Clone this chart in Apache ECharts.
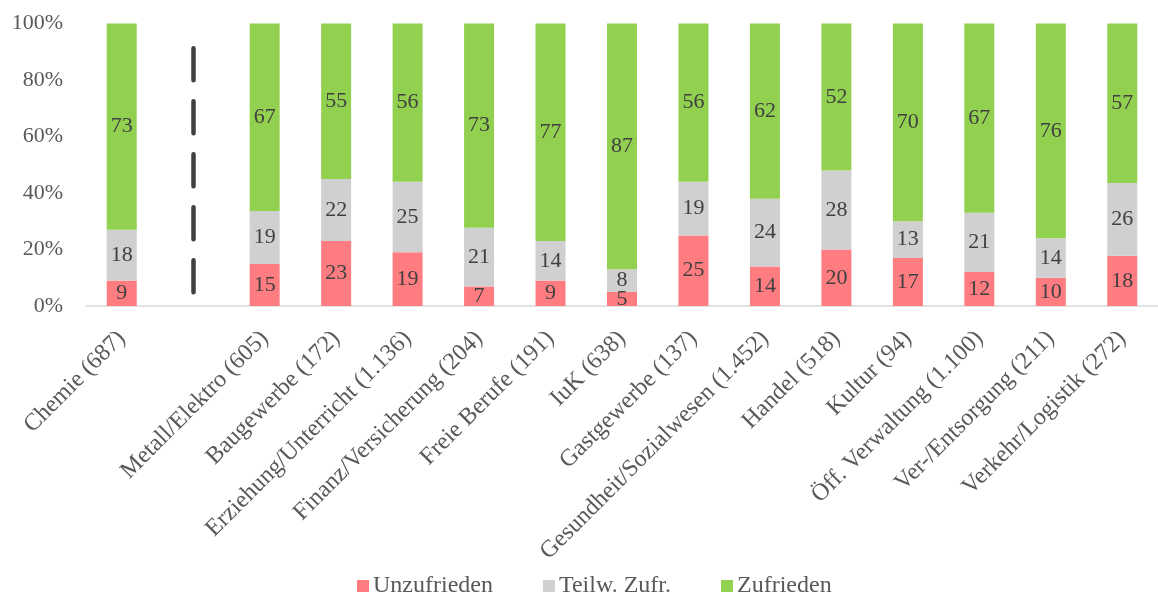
<!DOCTYPE html>
<html>
<head>
<meta charset="utf-8">
<script src="https://cdn.jsdelivr.net/npm/echarts@6/dist/echarts.min.js"></script>
<style>html,body{margin:0;padding:0;background:#fff}#c{width:1158px;height:595px}</style>
</head>
<body>
<div id="c"></div>
<script>
const categories = ['Chemie (687)', '', 'Metall/Elektro (605)', 'Baugewerbe (172)', 'Erziehung/Unterricht (1.136)', 'Finanz/Versicherung (204)', 'Freie Berufe (191)', 'IuK (638)', 'Gastgewerbe (137)', 'Gesundheit/Sozialwesen (1.452)', 'Handel (518)', 'Kultur (94)', 'Öff. Verwaltung (1.100)', 'Ver-/Entsorgung (211)', 'Verkehr/Logistik (272)'];
const unzufrieden = [9, null, 15, 23, 19, 7, 9, 5, 25, 14, 20, 17, 12, 10, 18];
const teilw = [18, null, 19, 22, 25, 21, 14, 8, 19, 24, 28, 13, 21, 14, 26];
const zufrieden = [73, null, 67, 55, 56, 73, 77, 87, 56, 62, 52, 70, 67, 76, 57];
const seriesNames = ['Unzufrieden', 'Teilw. Zufr.', 'Zufrieden'];
const colors = ['#FF7C80', '#D0D0D0', '#92D050'];
const yTicks = [0, 20, 40, 60, 80, 100];

const FONT = "'Liberation Serif', 'Times New Roman', serif";
const raw = [unzufrieden, teilw, zufrieden];
const totals = categories.map((_, i) => raw.reduce((s, a) => s + (a[i] || 0), 0));

const chart = echarts.init(document.getElementById('c'), null, {renderer: 'canvas'});
const series = raw.map((arr, k) => ({
  name: seriesNames[k],
  type: 'bar',
  stack: 'total',
  barWidth: 30,
  itemStyle: {color: colors[k]},
  label: {
    show: true,
    position: 'inside',
    color: '#404040',
    fontFamily: FONT,
    fontSize: 22,
    formatter: p => p.data && p.data.raw != null ? String(p.data.raw) : ''
  },
  data: arr.map((v, i) => v == null ? null : {value: v / totals[i] * 100, raw: v})
}));
series[0].markLine = {
  silent: true,
  symbol: ['none', 'none'],
  label: {show: false},
  lineStyle: {color: '#404040', width: 4.5, type: [32, 21], cap: 'round'},
  data: [[{coord: [categories[1], 91.2]}, {coord: [categories[1], 3.5]}]]
};

chart.setOption({
  animation: false,
  grid: {left: 86, top: 23.5, width: 1078, height: 282.5, containLabel: false},
  legend: {
    top: 569,
    left: 352,
    itemWidth: 12,
    itemHeight: 12,
    itemGap: 50,
    icon: 'rect',
    textStyle: {fontFamily: FONT, fontSize: 24, color: '#595959', padding: [0, 0, 0, -1]},
    data: seriesNames
  },
  xAxis: {
    type: 'category',
    data: categories,
    axisLine: {show: true, lineStyle: {color: '#D9D9D9', width: 1.5}},
    axisTick: {show: false},
    axisLabel: {interval: 0, rotate: 45, margin: 29, fontFamily: FONT, fontSize: 24, color: '#595959'}
  },
  yAxis: {
    type: 'value',
    min: 0, max: 100, interval: 20,
    splitLine: {show: false},
    axisLine: {show: false},
    axisTick: {show: false},
    axisLabel: {margin: 23, fontFamily: FONT, fontSize: 22, color: '#595959', formatter: v => yTicks.includes(v) ? v + '%' : ''}
  },
  series: series
});
</script>
</body>
</html>
